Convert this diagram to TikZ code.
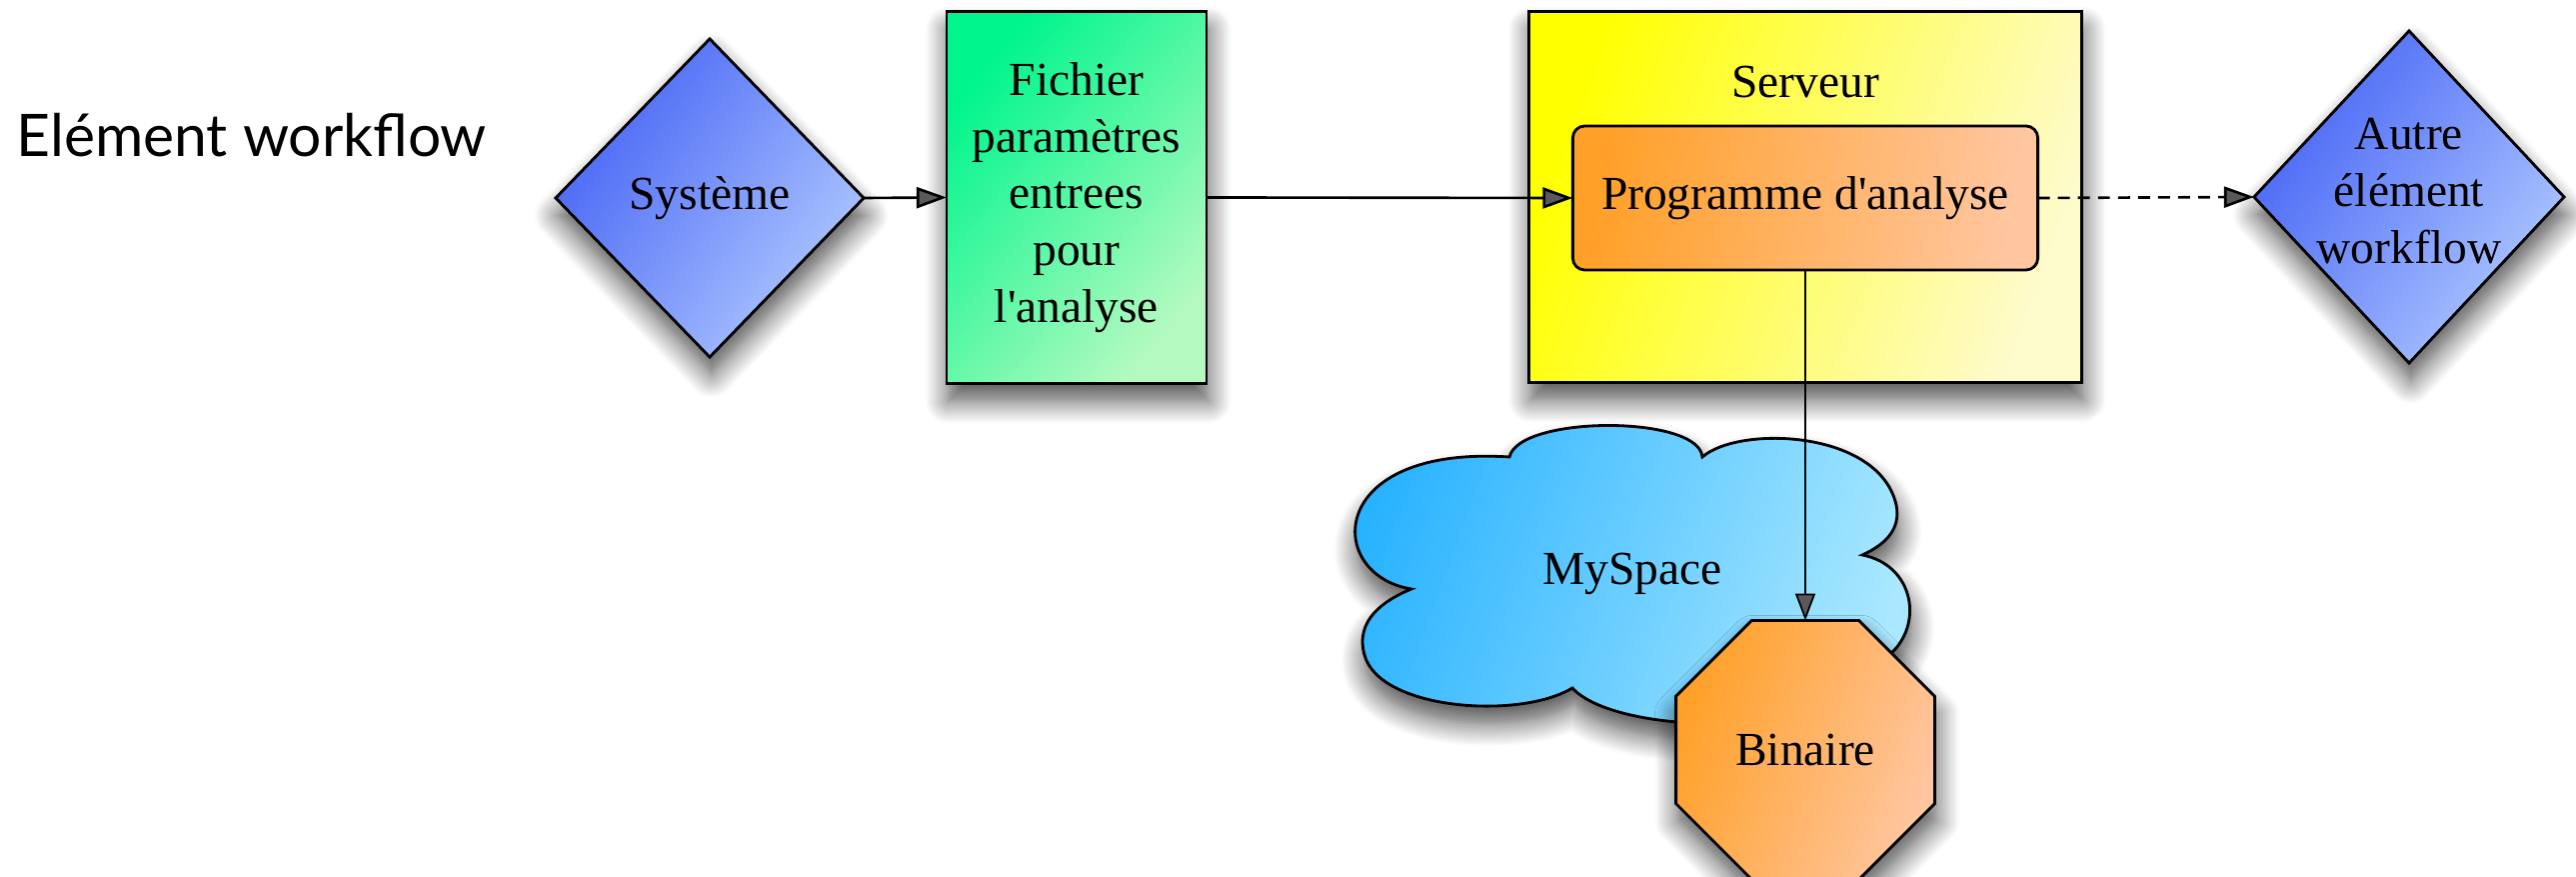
\documentclass[tikz,border=0pt]{standalone}
\usepackage{fontspec}
\setmainfont{Liberation Serif}
\newfontfamily\labelfont{Lato}
\usetikzlibrary{shapes.geometric,arrows.meta,shadows.blur}

\definecolor{blueA}{RGB}{70,100,245}
\definecolor{blueB}{RGB}{175,200,255}
\definecolor{greenA}{RGB}{0,245,140}
\definecolor{greenB}{RGB}{180,250,192}
\definecolor{yellowA}{RGB}{255,255,0}
\definecolor{yellowB}{RGB}{254,251,205}
\definecolor{orangeA}{RGB}{255,160,40}
\definecolor{orangeB}{RGB}{255,198,160}
\definecolor{skyA}{RGB}{40,178,255}
\definecolor{skyB}{RGB}{170,232,255}

\begin{document}
\begin{tikzpicture}[x=0.01cm,y=-0.01cm,
  txt/.style={font=\fontsize{13.5}{16.1}\selectfont, align=center},
  grad/.style n args={3}{top color=#1, bottom color=#2, shading angle=#3},
  shadowed/.style={blur shadow={shadow xshift=0.5pt, shadow yshift=-5pt,
      shadow blur radius=6.5pt, shadow blur steps=12, shadow opacity=70}},
  outline/.style={draw=black, line width=0.8pt},
  decision/.style={diamond, outline, shadowed, grad={blueA}{blueB}{55},
      inner sep=0pt, outer sep=0pt},
  conn/.style={line width=0.75pt, -{Triangle[length=0.3cm,width=0.21cm]}},
  thinconn/.style={line width=0.5pt, -{Triangle[length=0.27cm,width=0.2cm]}},
  dashconn/.style={conn, dash pattern=on 3.4pt off 2.3pt}
]
\useasboundingbox (0,0) rectangle (2577,877);

% title
\node[anchor=base west, inner sep=0pt,
      font=\labelfont\fontsize{16.7}{20}\selectfont] (title) at (16,157) {Elément workflow};

% left-hand decision
\node[decision, minimum width=3.08cm, minimum height=3.18cm, txt] (sys) at (710,198) {Système};

% parameter file
\node[rectangle, outline, shadowed, grad={greenA}{greenB}{50}, txt,
      minimum width=2.6cm, minimum height=3.71cm, inner sep=0pt, outer sep=0pt]
      (fich) at (1077,197.5) {Fichier\\paramètres\\entrees\\pour\\l\textquotesingle analyse};

% server with its program
\node[rectangle, outline, shadowed, grad={yellowA}{yellowB}{70},
      minimum width=5.52cm, minimum height=3.70cm, inner sep=0pt, outer sep=0pt]
      (serv) at (1806,197) {};
\node[txt, anchor=base, inner sep=0pt] (servlbl) at (1806,98) {Serveur};
\node[rectangle, rounded corners=0.12cm, outline, grad={orangeA}{orangeB}{80}, txt,
      minimum width=4.65cm, minimum height=1.44cm, inner sep=0pt, outer sep=0pt]
      (prog) at (1806,198) {Programme d\textquotesingle analyse};

% right-hand decision
\node[decision, minimum width=3.10cm, minimum height=3.32cm] (autre) at (2410,197) {};
\node[txt, inner sep=0pt] (autrelbl) at (2410,191) {Autre\\élément\\workflow};

% storage cloud
\path[outline, grad={skyA}{skyB}{70}, shadowed] (1412,589)
  .. controls (1325,575) and (1325,445) .. (1510,457)
  .. controls (1520,415) and (1700,415) .. (1703,457)
  .. controls (1740,425) and (1880,430) .. (1897,505)
  .. controls (1902,530) and (1885,545) .. (1863,555)
  .. controls (1915,565) and (1925,625) .. (1890,655)
  .. controls (1870,740) and (1620,740) .. (1573,688)
  .. controls (1520,720) and (1380,710) .. (1365,655)
  .. controls (1355,620) and (1385,600) .. (1412,589) -- cycle;
\node[txt, anchor=base, inner sep=0pt] (space) at (1633,585) {MySpace};

% binary output
\node[regular polygon, regular polygon sides=8, minimum size=2.8cm,
      outline, shadowed, grad={orangeA}{orangeB}{70}, txt, inner sep=0pt, outer sep=0pt]
      (bin) at (1806,750) {Binaire};

% connectors
\draw[conn] (sys.east) -- (fich.west);
\draw[conn] (fich.east) -- (prog.west);
\draw[dashconn] (prog.east) -- (autre.west);
\draw[thinconn] (prog.south) -- (bin.north);
\end{tikzpicture}
\end{document}
